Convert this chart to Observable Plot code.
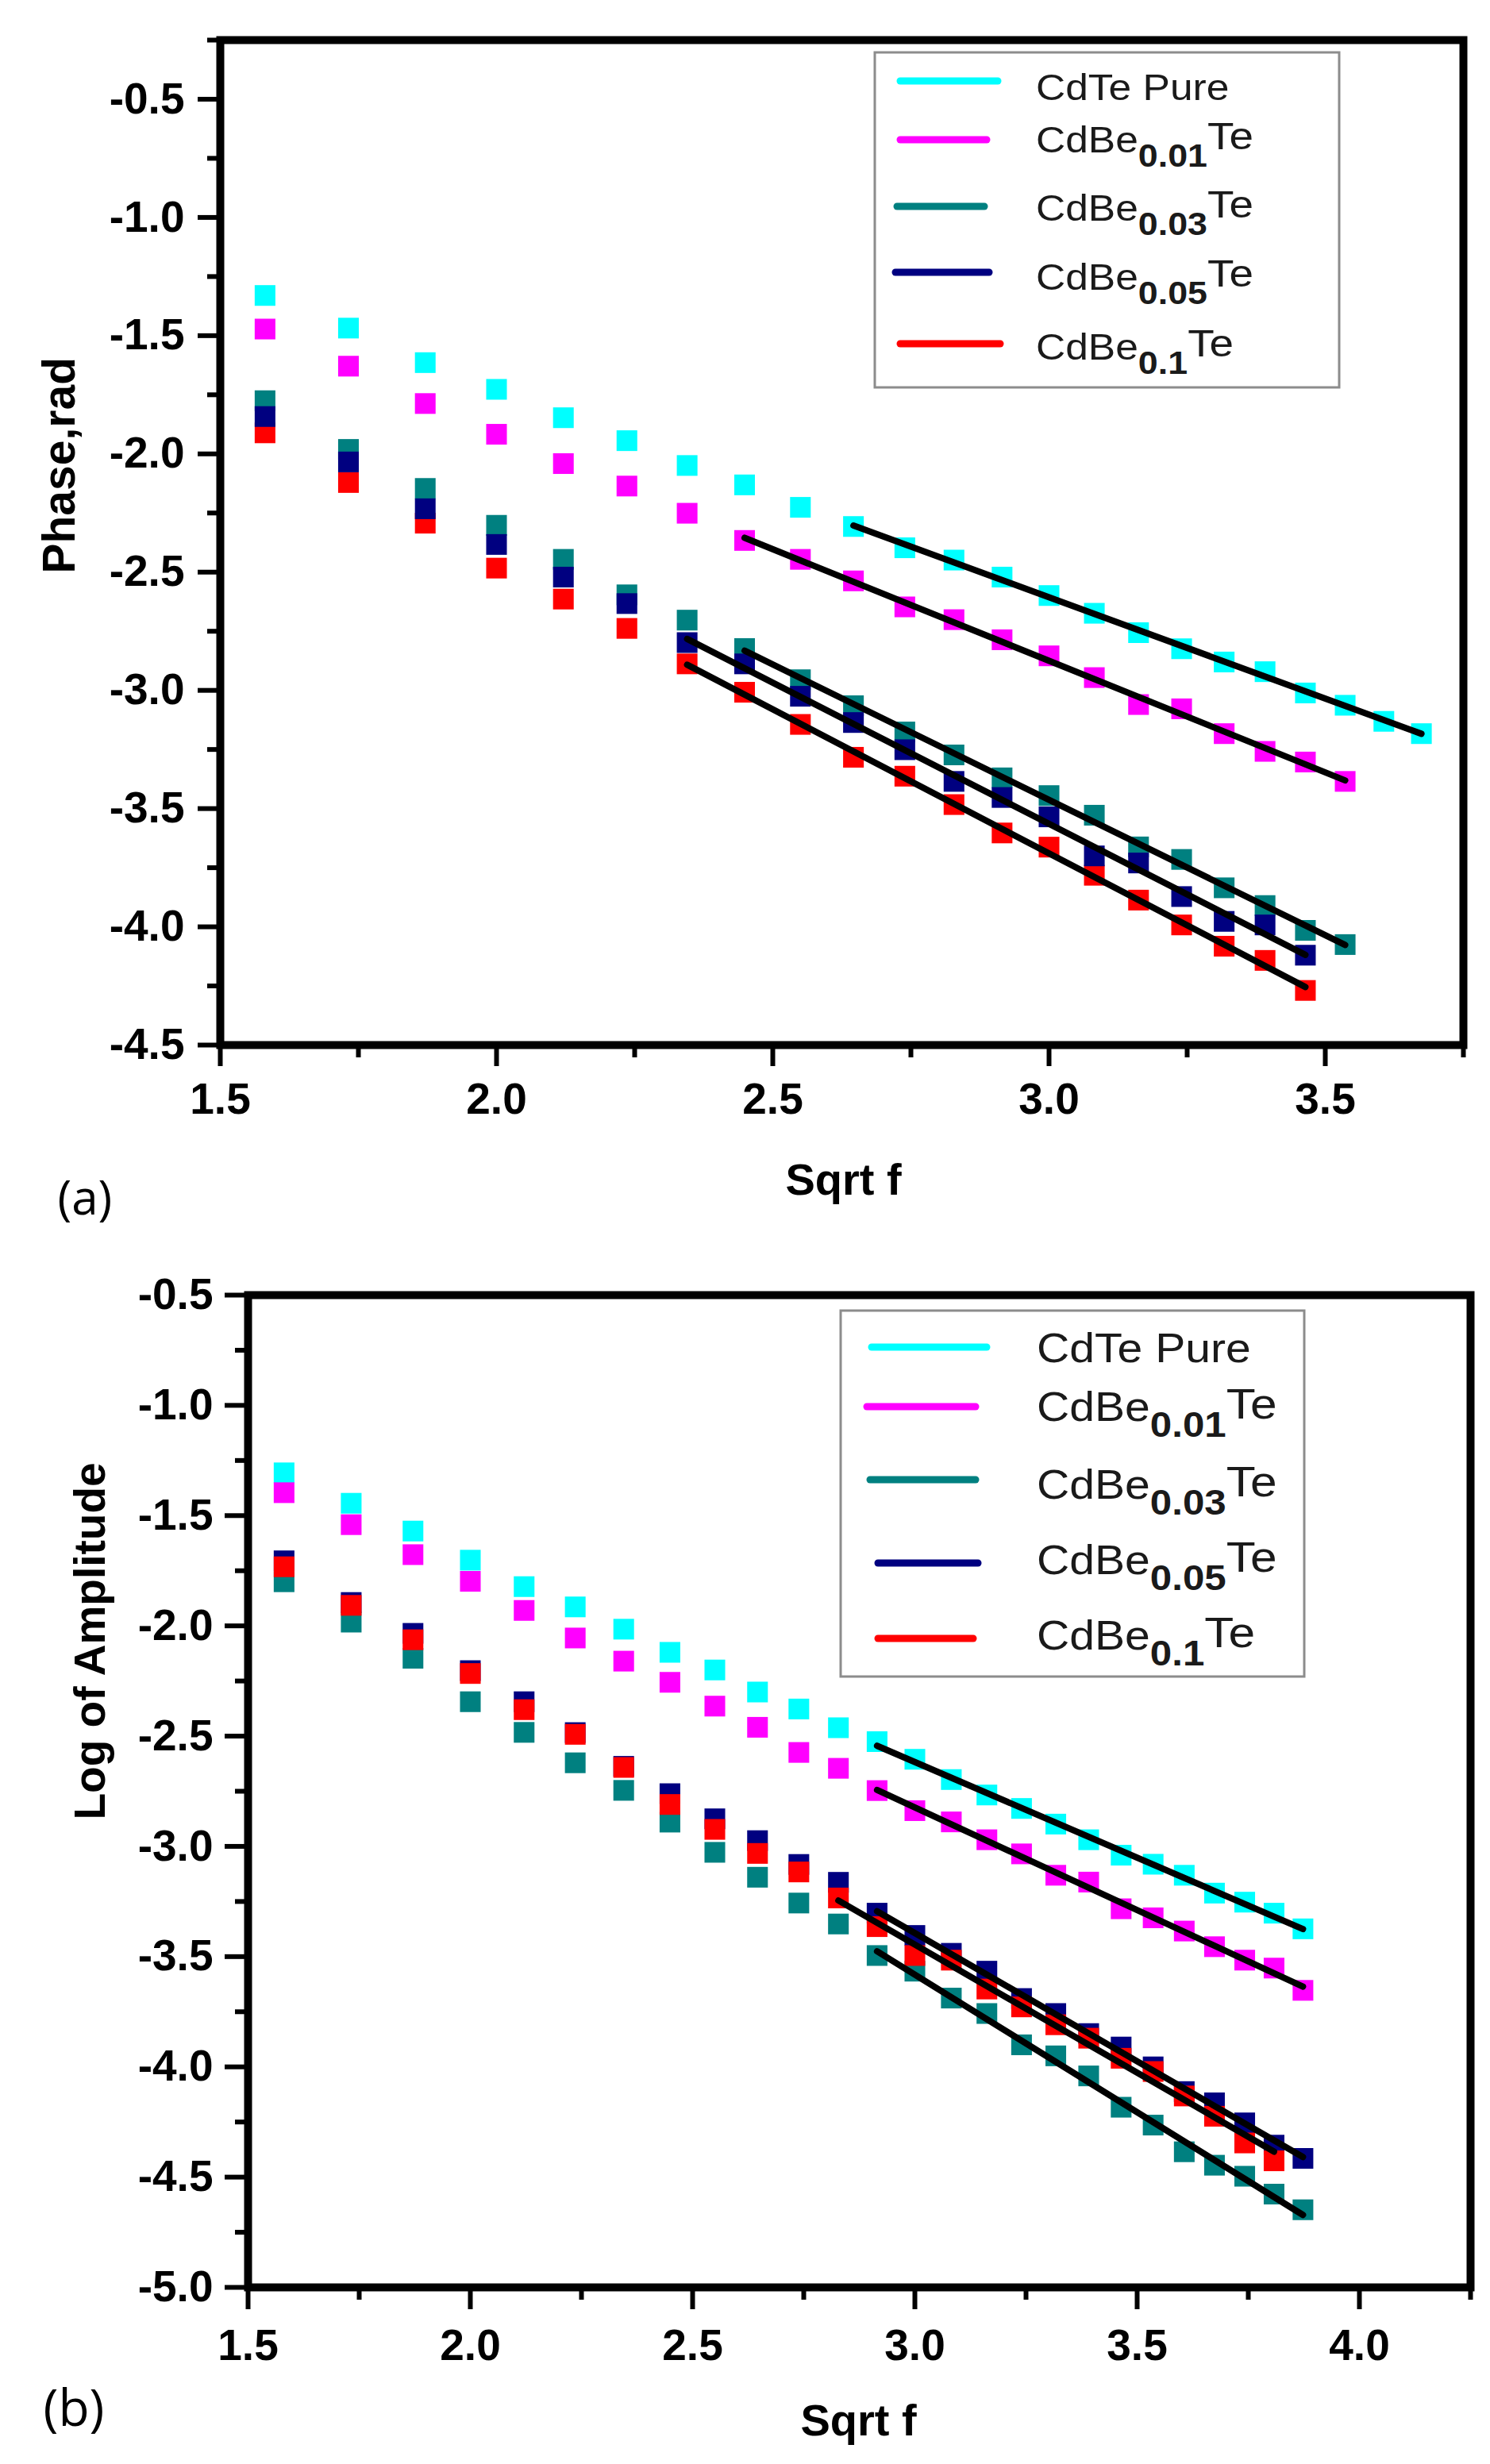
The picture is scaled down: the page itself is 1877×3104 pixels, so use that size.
<!DOCTYPE html>
<html>
<head>
<meta charset="utf-8">
<script src="https://cdn.jsdelivr.net/npm/d3@7"></script>
<script src="https://cdn.jsdelivr.net/npm/@observablehq/plot@0.6"></script>
<style>
html, body { margin: 0; padding: 0; background: #fff; overflow: hidden; }
#chart svg { display: block; }
</style>
</head>
<body>
<div id="chart"></div>
<script>
// ---------- series ----------
const seriesNames  = ["CdTe Pure", "CdBe0.01Te", "CdBe0.03Te", "CdBe0.05Te", "CdBe0.1Te"];
const seriesColors = ["#00FFFF", "#FF00FF", "#008080", "#000080", "#FF0000"];
const legendMain = ["CdTe Pure", "CdBe", "CdBe", "CdBe", "CdBe"];
const legendSub  = ["", "0.01", "0.03", "0.05", "0.1"];
const legendSup  = ["", "Te", "Te", "Te", "Te"];

// x values (Sqrt f)
const sqrtF = [1.581, 1.732, 1.871, 2.000, 2.121, 2.236, 2.345, 2.449, 2.550, 2.646, 2.739, 2.828, 2.915,
               3.000, 3.082, 3.162, 3.240, 3.317, 3.391, 3.464, 3.536, 3.606, 3.674, 3.742, 3.808, 3.873];

// ---------- panel (a): Phase, rad ----------
const phaseCdTe   = [-1.330, -1.468, -1.614, -1.727, -1.847, -1.944, -2.049, -2.131, -2.226, -2.307, -2.397, -2.449,
                     -2.521, -2.599, -2.674, -2.756, -2.824, -2.880, -2.921, -3.011, -3.063, -3.131, -3.183];
const phaseBe001  = [-1.472, -1.629, -1.787, -1.917, -2.041, -2.136, -2.251, -2.366, -2.446, -2.537, -2.647, -2.701,
                     -2.786, -2.854, -2.946, -3.060, -3.078, -3.183, -3.258, -3.303, -3.385];
const phaseBe003  = [-1.775, -1.981, -2.146, -2.302, -2.446, -2.596, -2.703, -2.823, -2.955, -3.065, -3.176, -3.273,
                     -3.370, -3.445, -3.528, -3.662, -3.715, -3.835, -3.910, -4.015, -4.075];
const phaseBe005  = [-1.842, -2.034, -2.232, -2.383, -2.521, -2.633, -2.798, -2.888, -3.025, -3.136, -3.251, -3.385,
                     -3.453, -3.535, -3.700, -3.730, -3.872, -3.977, -3.992, -4.120];
const phaseBe01   = [-1.911, -2.121, -2.293, -2.483, -2.614, -2.738, -2.888, -3.008, -3.144, -3.283, -3.363, -3.483,
                     -3.603, -3.663, -3.782, -3.887, -3.992, -4.082, -4.142, -4.269];
const fitStartA = [2.646, 2.449, 2.449, 2.345, 2.345];
const drawOrderA = [0, 1, 2, 4, 3];
const xTicksA = [1.5, 2.0, 2.5, 3.0, 3.5];
const xMinorA = [1.75, 2.25, 2.75, 3.25, 3.75];
const yTicksA = [-0.5, -1.0, -1.5, -2.0, -2.5, -3.0, -3.5, -4.0, -4.5];
const yMinorA = [-0.25, -0.75, -1.25, -1.75, -2.25, -2.75, -3.25, -3.75, -4.25];

// ---------- panel (b): Log of Amplitude ----------
const ampCdTe  = [-1.306, -1.444, -1.570, -1.702, -1.822, -1.914, -2.015, -2.120, -2.200, -2.300, -2.377, -2.462, -2.525,
                  -2.605, -2.697, -2.767, -2.828, -2.899, -2.970, -3.040, -3.081, -3.131, -3.212, -3.253, -3.303, -3.374];
const ampBe001 = [-1.396, -1.541, -1.677, -1.798, -1.930, -2.055, -2.160, -2.256, -2.364, -2.460, -2.574, -2.646, -2.747,
                  -2.838, -2.889, -2.970, -3.034, -3.131, -3.162, -3.283, -3.324, -3.384, -3.455, -3.516, -3.552, -3.653];
const ampBe003 = [-1.800, -1.983, -2.147, -2.344, -2.483, -2.621, -2.746, -2.890, -3.027, -3.140, -3.257, -3.352, -3.495,
                  -3.566, -3.688, -3.758, -3.900, -3.950, -4.041, -4.183, -4.264, -4.385, -4.446, -4.496, -4.577, -4.648];
const ampBe005 = [-1.705, -1.894, -2.034, -2.203, -2.344, -2.484, -2.637, -2.761, -2.875, -2.974, -3.082, -3.163, -3.303,
                  -3.404, -3.485, -3.566, -3.690, -3.758, -3.849, -3.910, -4.000, -4.112, -4.163, -4.254, -4.355, -4.415];
const ampBe01  = [-1.732, -1.907, -2.063, -2.216, -2.380, -2.492, -2.642, -2.810, -2.923, -3.032, -3.116, -3.234, -3.364,
                  -3.495, -3.516, -3.647, -3.728, -3.809, -3.870, -3.961, -4.021, -4.132, -4.224, -4.345, -4.426];
const fitStartB = [2.915, 2.915, 2.915, 2.915, 2.828];
const drawOrderB = [0, 1, 2, 3, 4];
const xTicksB = [1.5, 2.0, 2.5, 3.0, 3.5, 4.0];
const xMinorB = [1.75, 2.25, 2.75, 3.25, 3.75, 4.25];
const yTicksB = [-0.5, -1.0, -1.5, -2.0, -2.5, -3.0, -3.5, -4.0, -4.5, -5.0];
const yMinorB = [-0.75, -1.25, -1.75, -2.25, -2.75, -3.25, -3.75, -4.25, -4.75];

// ---------- helpers ----------
const rowsOf = (vals, k) => vals.map((v, i) => ({x: sqrtF[i], y: v, s: seriesNames[k]}));
const fmt = d => d.toFixed(1);
const FONT = "'Liberation Sans', Arial, Helvetica, sans-serif";

function panel(cfg) {
  const marks = [];
  cfg.order.forEach(k => {
    marks.push(Plot.dot(rowsOf(cfg.values[k], k), {
      x: "x", y: "y", fill: seriesColors[k], symbol: "square", r: 14.7
    }));
  });
  cfg.values.forEach((vals, k) => {
    const pts = rowsOf(vals, k).filter(d => d.x >= cfg.fitStart[k] - 1e-9);
    marks.push(Plot.linearRegressionY(pts, {x: "x", y: "y", stroke: "black", strokeWidth: 8, ci: 0}));
  });
  marks.push(
    Plot.frame({stroke: "black", strokeWidth: 10}),
    Plot.axisX(cfg.xTicks, {tickSize: cfg.xTickSize, tickPadding: cfg.xPad, tickFormat: fmt, strokeWidth: 6,
                            fontSize: 55, fontWeight: "bold", label: null}),
    Plot.axisX(cfg.xMinor, {tickSize: 16, tickFormat: () => "", strokeWidth: 6, label: null}),
    Plot.axisY(cfg.yTicks, {tickSize: cfg.yTickSize, tickPadding: cfg.yPad, tickFormat: fmt, strokeWidth: 6,
                            fontSize: 55, fontWeight: "bold", label: null}),
    Plot.axisY(cfg.yMinor, {tickSize: 16, tickFormat: () => "", strokeWidth: 6, label: null}),
    Plot.text([cfg.yTitle], {frameAnchor: "left", dx: cfg.yTitleDx, dy: cfg.yTitleDy, rotate: -90,
                             fontSize: cfg.yTitleFs, fontWeight: "bold"}),
    Plot.text(["Sqrt f"], {frameAnchor: "bottom", lineAnchor: "top", dx: cfg.xTitleDx, dy: cfg.xTitleDy,
                           fontSize: 56, fontWeight: "bold"}),
    Plot.text([cfg.tag], {frameAnchor: "bottom-left", textAnchor: "start", lineAnchor: "top",
                          dx: cfg.tagDx, dy: cfg.tagDy, fontSize: cfg.tagFs, fontWeight: "normal",
                          fontFamily: "'Open Sans', 'Noto Sans', sans-serif"})
  );
  const svg = Plot.plot({
    width: 1877, height: cfg.height,
    marginLeft: cfg.ml, marginRight: cfg.mr, marginTop: cfg.mt, marginBottom: cfg.mb,
    x: {domain: cfg.xDomain, label: null},
    y: {domain: cfg.yDomain, label: null},
    style: {fontFamily: FONT, fontSize: "55px", fontWeight: "bold", color: "black", background: "white", overflow: "visible"},
    marks
  });
  drawLegend(svg, cfg.legend);
  return svg;
}

function drawLegend(svg, L) {
  const g = d3.select(svg).append("g").attr("class", "legend").attr("text-anchor", "start");
  g.append("rect").attr("x", L.x0).attr("y", L.y0).attr("width", L.x1 - L.x0).attr("height", L.y1 - L.y0)
    .attr("fill", "white").attr("stroke", "#8c8c8c").attr("stroke-width", 3);
  seriesNames.forEach((n, k) => {
    g.append("line").attr("x1", L.lx0[k]).attr("x2", L.lx1[k]).attr("y1", L.ly[k]).attr("y2", L.ly[k])
      .attr("stroke", seriesColors[k]).attr("stroke-width", 9).attr("stroke-linecap", "round");
    const t = g.append("g").attr("transform", `translate(${L.tx},${L.tb[k]}) scale(${L.stretch},1)`)
      .append("text").attr("x", 0).attr("y", 0).attr("text-anchor", "start")
      .attr("font-family", FONT).attr("font-weight", "normal")
      .attr("font-size", L.fs).attr("fill", "#1a1a1a");
    t.append("tspan").text(legendMain[k]);
    if (legendSub[k]) {
      t.append("tspan").attr("dy", L.subDy).attr("font-size", L.subFs).attr("font-weight", "bold").text(legendSub[k]);
      t.append("tspan").attr("dy", -(L.subDy + L.supRaise)).attr("font-size", L.supFs).text(legendSup[k]);
    }
  });
}

const chart = document.getElementById("chart");

chart.appendChild(panel({
  height: 1560, ml: 277, mr: 34, mt: 50, mb: 244,
  xDomain: [1.5, 3.75], yDomain: [-4.5, -0.25],
  values: [phaseCdTe, phaseBe001, phaseBe003, phaseBe005, phaseBe01],
  order: drawOrderA, fitStart: fitStartA,
  xTicks: xTicksA, xMinor: xMinorA, yTicks: yTicksA, yMinor: yMinorA,
  xTickSize: 27, xPad: 20, yTickSize: 28, yPad: 17,
  yTitle: "Phase,rad", yTitleDx: -202, yTitleDy: 39, yTitleFs: 57,
  xTitleDx: 2, xTitleDy: 149,
  tag: "(a)", tagDx: -205, tagDy: 171, tagFs: 60,
  legend: {x0: 1102, x1: 1687, y0: 66, y1: 488,
           lx0: [1134, 1134, 1130, 1128, 1134], lx1: [1257, 1243, 1240, 1246, 1260],
           ly: [102, 176, 260, 343, 433], tx: 1305, tb: [126, 192, 278, 365, 453],
           fs: 46, subFs: 40, supFs: 49, subDy: 18, supRaise: 4, stretch: 1.12}
}));

chart.appendChild(panel({
  height: 1544, ml: 312, mr: 25, mt: 71, mb: 223,
  xDomain: [1.5, 4.25], yDomain: [-5.0, -0.5],
  values: [ampCdTe, ampBe001, ampBe003, ampBe005, ampBe01],
  order: drawOrderB, fitStart: fitStartB,
  xTicks: xTicksB, xMinor: xMinorB, yTicks: yTicksB, yMinor: yMinorB,
  xTickSize: 28, xPad: 24, yTickSize: 29, yPad: 15,
  yTitle: "Log of Amplitude", yTitleDx: -198, yTitleDy: 36, yTitleFs: 55,
  xTitleDx: -1, xTitleDy: 147,
  tag: "(b)", tagDx: -258, tagDy: 129, tagFs: 64,
  legend: {x0: 1059, x1: 1643, y0: 91, y1: 552,
           lx0: [1098, 1092, 1096, 1106, 1106], lx1: [1243, 1229, 1229, 1232, 1226],
           ly: [137, 212, 304, 409, 504], tx: 1306, tb: [156, 230, 328, 423, 518],
           fs: 51, subFs: 44, supFs: 54, subDy: 20, supRaise: 3, stretch: 1.12}
}));
</script>
</body>
</html>
